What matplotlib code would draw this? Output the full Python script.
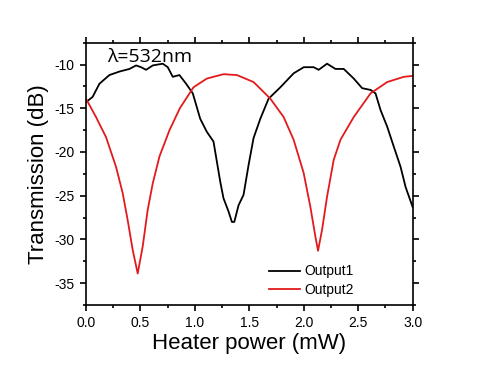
import matplotlib
matplotlib.use('Agg')
from matplotlib import pyplot as plt
from matplotlib.ticker import MultipleLocator

plt.rcParams['font.family'] = ['Liberation Sans', 'DejaVu Sans']
plt.rcParams['axes.unicode_minus'] = False

# Output1 (black)
x1 = [0, 0.061, 0.123, 0.215, 0.307, 0.399, 0.46, 0.506, 0.552, 0.613,
      0.705, 0.751, 0.797, 0.858, 0.92, 0.981, 1.049, 1.11, 1.171, 1.202,
      1.233, 1.263, 1.309, 1.34, 1.362, 1.401, 1.447, 1.493, 1.539, 1.601,
      1.677, 1.785, 1.907, 2.0, 2.091, 2.137, 2.214, 2.291, 2.367, 2.459,
      2.536, 2.613, 2.659, 2.705, 2.766, 2.827, 2.889, 2.935, 3.0]
y1 = [-14.3, -13.7, -12.2, -11.2, -10.8, -10.5, -10.1, -10.3, -10.6, -10.1,
      -9.9, -10.3, -11.4, -11.2, -12.2, -13.3, -16.2, -17.7, -18.8, -21.1,
      -23.4, -25.3, -26.8, -28.0, -28.0, -26.1, -24.9, -21.5, -18.4, -16.2,
      -13.9, -12.6, -11.0, -10.3, -10.3, -10.6, -9.9, -10.5, -10.5, -11.6,
      -12.7, -12.9, -13.3, -15.2, -17.1, -19.4, -21.7, -24.0, -26.3]

# Output2 (red)
x2 = [0, 0.092, 0.184, 0.276, 0.337, 0.383, 0.429, 0.475, 0.521, 0.567,
      0.613, 0.675, 0.767, 0.862, 0.987, 1.11, 1.263, 1.386, 1.539, 1.693,
      1.815, 1.907, 1.999, 2.061, 2.107, 2.131, 2.168, 2.214, 2.275, 2.337,
      2.459, 2.613, 2.766, 2.919, 3.0]
y2 = [-13.9, -16.0, -18.3, -21.7, -24.7, -27.8, -31.2, -33.9, -30.8, -26.6,
      -23.6, -20.5, -17.5, -15.0, -12.6, -11.6, -11.1, -11.2, -12.0, -13.9,
      -16.0, -18.6, -22.4, -26.3, -29.7, -31.3, -28.9, -25.1, -20.9, -18.6,
      -16.0, -13.3, -12.0, -11.4, -11.3]

fig = plt.figure(figsize=(4.79, 3.66), dpi=100)
ax = fig.add_axes([0.1795, 0.1667, 0.682, 0.7166])

ax.plot(x1, y1, color='black', lw=1.3, label='Output1')
ax.plot(x2, y2, color='#e31a1c', lw=1.3, label='Output2')

ax.set_xlim(0, 3)
ax.set_ylim(-37.5, -7.5)
ax.xaxis.set_major_locator(MultipleLocator(0.5))
ax.xaxis.set_minor_locator(MultipleLocator(0.25))
ax.yaxis.set_major_locator(MultipleLocator(5))
ax.yaxis.set_minor_locator(MultipleLocator(2.5))
ax.xaxis.set_major_formatter(lambda v, p: '%.1f' % v)

for s in ax.spines.values():
    s.set_linewidth(1.2)
ax.tick_params(which='both', direction='out', top=True, right=True,
               labelsize=10, width=1.2)
ax.tick_params(which='major', length=4.5)
ax.tick_params(which='minor', length=2.5)

ax.set_xlabel('Heater power (mW)', fontsize=16, labelpad=2)
ax.set_ylabel('Transmission (dB)', fontsize=16, labelpad=4)

ax.text(0.19, -9.7, 'λ=532nm', fontsize=14, family=['Open Sans', 'DejaVu Sans'],
        va='baseline')

ax.legend(loc='lower right', bbox_to_anchor=(0.845, 0.0), frameon=False,
          fontsize=10, handlelength=2.2, labelspacing=0.3, borderaxespad=0.2,
          handletextpad=0.3)

fig.savefig('out.png', dpi=100)
